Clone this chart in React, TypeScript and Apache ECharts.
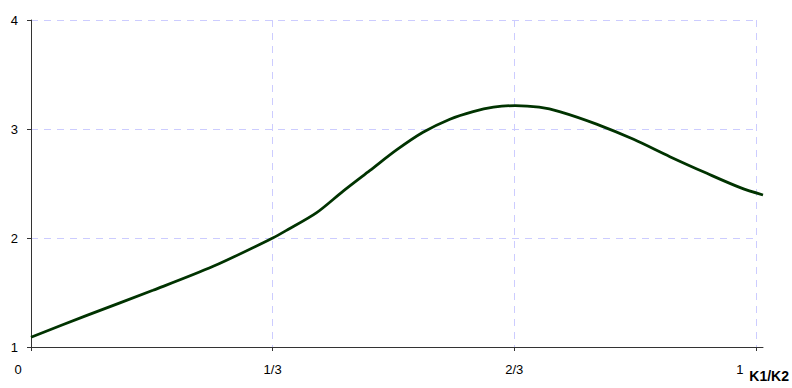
import React, { useEffect, useRef } from "react";
import * as echarts from "echarts";

// Curve samples: K1/K2 ratio (x) against the response (y)
const ratioValues = [
  0, 0.077, 0.168, 0.251, 0.333, 0.352, 0.393, 0.43, 0.467, 0.504, 0.54,
  0.577, 0.609, 0.637, 0.667, 0.7, 0.728, 0.779, 0.83, 0.88, 0.931, 0.977,
  1.0083,
];
const responseValues = [
  1.09, 1.29, 1.52, 1.74, 2.0, 2.07, 2.23, 2.43, 2.62, 2.81, 2.97, 3.09,
  3.16, 3.2, 3.215, 3.2, 3.16, 3.045, 2.905, 2.746, 2.593, 2.462, 2.394,
];

// Axis ticks
const xTickValues = [0, 1 / 3, 2 / 3, 1];
const xTickLabels = ["0", "1/3", "2/3", "1"];
const yTickValues = [1, 2, 3, 4];
const xAxisTitle = "K1/K2";
const xDrawnEnd = 1.0083;

const FONT = "'Liberation Sans', Arial, sans-serif";
const AXIS_COLOR = "#333";
const GRID_COLOR = "#ccccff";

export default function App() {
  const ref = useRef<HTMLDivElement>(null);

  useEffect(() => {
    if (!ref.current) return;
    const chart = echarts.init(ref.current, null, { renderer: "svg" });

    const xLabel = (v: number) => {
      const i = xTickValues.findIndex((t) => Math.abs(t - v) < 1e-6);
      if (i < 0) return "";
      if (i === 0) return `{first|${xTickLabels[i]}}`;
      if (i === xTickValues.length - 1) return `{last|${xTickLabels[i]}}`;
      return xTickLabels[i];
    };

    const dashed = { color: GRID_COLOR, width: 1, type: [7, 6] as number[] };

    chart.setOption({
      animation: false,
      backgroundColor: "#fff",
      textStyle: { fontFamily: FONT },
      grid: [
        { left: 31, top: 20, width: 726, height: 327, containLabel: false },
        { left: 31, top: 20, width: 732, height: 327, containLabel: false },
      ],
      xAxis: [
        {
          type: "value",
          gridIndex: 0,
          min: 0,
          max: 1,
          interval: 1 / 3,
          axisLine: { show: false },
          axisTick: {
            show: true,
            length: 4,
            lineStyle: { color: AXIS_COLOR, width: 1 },
          },
          splitLine: { show: true, showMinLine: false, lineStyle: dashed },
          axisLabel: {
            margin: 16,
            fontSize: 13,
            color: "#000",
            fontFamily: FONT,
            formatter: xLabel,
            showMinLabel: true,
            showMaxLabel: true,
            rich: {
              first: { fontSize: 13, fontFamily: FONT, color: "#000", padding: [0, 26, 0, 0] },
              last: { fontSize: 13, fontFamily: FONT, color: "#000", padding: [0, 32, 0, 0] },
            },
          },
          name: xAxisTitle,
          nameLocation: "end",
          nameGap: -8,
          nameTextStyle: {
            fontFamily: FONT,
            fontSize: 14,
            fontWeight: "bold",
            color: "#000",
            align: "left",
            verticalAlign: "top",
            padding: [22, 0, 0, 0],
          },
        },
        {
          type: "value",
          gridIndex: 1,
          min: 0,
          max: xDrawnEnd,
          axisLine: { show: true, lineStyle: { color: AXIS_COLOR, width: 1 } },
          axisTick: { show: false },
          axisLabel: { show: false },
          splitLine: { show: false },
        },
      ],
      yAxis: [
        {
          type: "value",
          gridIndex: 0,
          min: yTickValues[0],
          max: yTickValues[yTickValues.length - 1],
          interval: 1,
          axisLine: { show: true, lineStyle: { color: AXIS_COLOR, width: 1 } },
          axisTick: {
            show: true,
            length: 4,
            lineStyle: { color: AXIS_COLOR, width: 1 },
          },
          splitLine: { show: true, showMinLine: false, lineStyle: dashed },
          axisLabel: {
            margin: 13,
            fontSize: 13,
            color: "#000",
            fontFamily: FONT,
          },
        },
        {
          type: "value",
          gridIndex: 1,
          min: yTickValues[0],
          max: yTickValues[yTickValues.length - 1],
          axisLine: { show: false },
          axisTick: { show: false },
          axisLabel: { show: false },
          splitLine: { show: false },
        },
      ],
      series: [
        {
          type: "line",
          xAxisIndex: 1,
          yAxisIndex: 1,
          data: ratioValues.map((x, i) => [x, responseValues[i]]),
          showSymbol: false,
          smooth: 0.3,
          clip: false,
          lineStyle: { color: "#003300", width: 2.75 },
        },
      ],
    });

    return () => chart.dispose();
  }, []);

  return (
    <div
      ref={ref}
      style={{ position: "fixed", left: 0, top: 0, width: 792, height: 388 }}
    />
  );
}
